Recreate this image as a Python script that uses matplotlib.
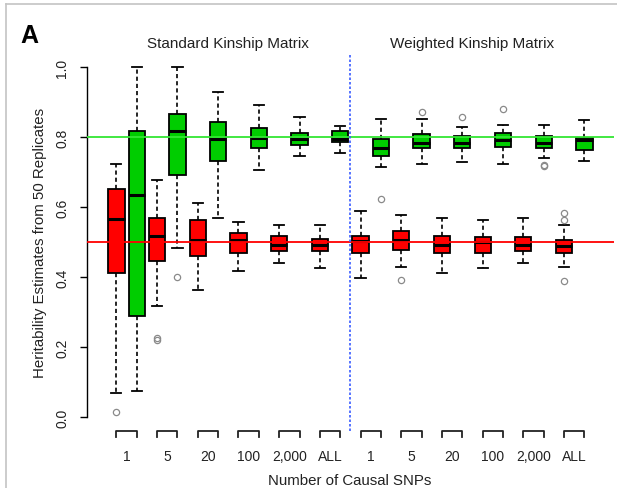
import numpy as np
import matplotlib.pyplot as plt
from matplotlib.lines import Line2D

plt.rcParams['font.family'] = ['Liberation Sans', 'DejaVu Sans']
plt.rcParams['text.color'] = '#222222'
plt.rcParams['ytick.labelcolor'] = '#222222'

# Number of causal SNPs (x groups, repeated for both kinship matrices)
snp_labels = ["1", "5", "20", "100", "2,000", "ALL"]
panel_titles = ["Standard Kinship Matrix", "Weighted Kinship Matrix"]
true_h2 = [0.5, 0.8]

# Standard kinship matrix, true heritability 0.5 (red)
std_05_low = [0.069, 0.319, 0.364, 0.417, 0.441, 0.426]
std_05_q1 = [0.412, 0.447, 0.462, 0.469, 0.474, 0.474]
std_05_med = [0.567, 0.518, 0.506, 0.506, 0.493, 0.493]
std_05_q3 = [0.652, 0.569, 0.564, 0.526, 0.519, 0.509]
std_05_high = [0.724, 0.679, 0.612, 0.559, 0.550, 0.550]
std_05_out = [[0.014], [0.220, 0.227], [], [], [], []]

# Standard kinship matrix, true heritability 0.8 (green)
std_08_low = [0.074, 0.485, 0.569, 0.707, 0.746, 0.755]
std_08_q1 = [0.290, 0.693, 0.732, 0.769, 0.777, 0.786]
std_08_med = [0.635, 0.819, 0.795, 0.799, 0.795, 0.795]
std_08_q3 = [0.817, 0.867, 0.845, 0.827, 0.812, 0.817]
std_08_high = [1.000, 1.000, 0.929, 0.892, 0.858, 0.831]
std_08_out = [[], [0.40], [], [], [], []]

# Weighted kinship matrix, true heritability 0.5 (red)
wtd_05_low = [0.399, 0.430, 0.412, 0.426, 0.440, 0.430]
wtd_05_q1 = [0.469, 0.479, 0.469, 0.469, 0.474, 0.469]
wtd_05_med = [0.503, 0.508, 0.493, 0.500, 0.493, 0.490]
wtd_05_q3 = [0.519, 0.532, 0.519, 0.516, 0.516, 0.507]
wtd_05_high = [0.590, 0.578, 0.569, 0.564, 0.569, 0.550]
wtd_05_out = [[], [0.393], [], [], [], [0.389, 0.564, 0.585]]

# Weighted kinship matrix, true heritability 0.8 (green)
wtd_08_low = [0.715, 0.724, 0.729, 0.724, 0.742, 0.732]
wtd_08_q1 = [0.746, 0.769, 0.769, 0.772, 0.769, 0.764]
wtd_08_med = [0.769, 0.785, 0.785, 0.792, 0.783, 0.793]
wtd_08_q3 = [0.795, 0.809, 0.805, 0.812, 0.805, 0.798]
wtd_08_high = [0.852, 0.852, 0.830, 0.835, 0.835, 0.849]
wtd_08_out = [[0.623], [0.873], [0.857], [0.881], [0.717, 0.722], []]

RED = "#ff0000"
GREEN = "#00cd00"


def make_stats(low, q1, med, q3, high, out):
    return [dict(whislo=a, q1=b, med=c, q3=d, whishi=e, fliers=f)
            for a, b, c, d, e, f in zip(low, q1, med, q3, high, out)]


red_sets = [make_stats(std_05_low, std_05_q1, std_05_med, std_05_q3, std_05_high, std_05_out),
            make_stats(wtd_05_low, wtd_05_q1, wtd_05_med, wtd_05_q3, wtd_05_high, wtd_05_out)]
green_sets = [make_stats(std_08_low, std_08_q1, std_08_med, std_08_q3, std_08_high, std_08_out),
              make_stats(wtd_08_low, wtd_08_q1, wtd_08_med, wtd_08_q3, wtd_08_high, wtd_08_out)]

# interleave red/green: positions 1..24
stats, colors = [], []
for reds, greens in zip(red_sets, green_sets):
    for r, g in zip(reds, greens):
        stats += [r, g]
        colors += [RED, GREEN]
positions = np.arange(1, len(stats) + 1)

W, H = 617, 489
fig = plt.figure(figsize=(W / 100, H / 100), dpi=100)
ax = fig.add_axes([86.7 / W, 1 - 432.3 / H, (614.1 - 86.7) / W, (432.3 - 54.3) / H])

bp = ax.bxp(stats, positions=positions, widths=0.8, capwidths=0.5,
            patch_artist=True,
            boxprops=dict(edgecolor="black", linewidth=1.3),
            whiskerprops=dict(color="black", linewidth=1.2, linestyle=(0, (2.5, 1.8))),
            capprops=dict(color="black", linewidth=1.3),
            medianprops=dict(color="black", linewidth=2.2, solid_capstyle="butt"),
            flierprops=dict(marker="o", markerfacecolor="none", markeredgecolor="#8a8a8a",
                            markersize=4.5, markeredgewidth=0.9))
for patch, c in zip(bp["boxes"], colors):
    patch.set_facecolor(c)

ax.axhline(true_h2[1], color="#33e633", linewidth=1.3, zorder=5)
ax.axhline(true_h2[0], color=RED, linewidth=1.3, zorder=5)
ax.axvline(12.5, color="#3a5cff", linewidth=1.2, linestyle=(0, (1.5, 1.2)), zorder=5)

ax.set_xlim(-0.46, 25.46)
ax.set_ylim(-0.04, 1.04)

for s in ["top", "right", "bottom"]:
    ax.spines[s].set_visible(False)
ax.spines["left"].set_bounds(0, 1)
ax.spines["left"].set_linewidth(1.0)
ax.set_yticks(np.arange(0, 1.01, 0.2))
ax.set_yticklabels([f"{v:.1f}" for v in np.arange(0, 1.01, 0.2)], rotation=90, va="center")
ax.tick_params(axis="y", length=4.7, width=1.0, pad=8, labelsize=10)
ax.set_xticks([])

# bracket-style x axis, one per SNP group
xt = ax.get_xaxis_transform()
d = 6 / 378
group_centers = []
for i in range(len(stats) // 2):
    x0, x1 = positions[2 * i], positions[2 * i + 1]
    ax.plot([x0, x0, x1, x1], [-d, 0, 0, -d], color="#222222", linewidth=1.3,
            transform=xt, clip_on=False)
    group_centers.append((x0 + x1) / 2)
labels = snp_labels * 2
for xc, lab in zip(group_centers, labels):
    ax.text(xc, (432.3 - 457) / 378, lab, transform=xt, ha="center", va="center", fontsize=10)

# panel titles
for k, title in enumerate(panel_titles):
    ax.text(6.5 + 12 * k, (432.3 - 44) / 378, title, transform=xt,
            ha="center", va="center", fontsize=11)

fig.text(40 / W, 1 - 243 / H, "Heritability Estimates from 50 Replicates",
         rotation=90, ha="center", va="center", fontsize=10.8)
fig.text(350 / W, 1 - 481 / H, "Number of Causal SNPs", ha="center", va="center", fontsize=10.8)
fig.text(29 / W, 1 - 36 / H, "A", ha="center", va="center", fontsize=18, fontweight="bold",
         color="black")

# light frame on top and left edge of the panel
fig.add_artist(Line2D([6 / W, 1], [1 - 5 / H, 1 - 5 / H], color="#c4c4c4", linewidth=1.2))
fig.add_artist(Line2D([6 / W, 6 / W], [0, 1 - 5 / H], color="#c4c4c4", linewidth=1.2))

fig.savefig("out.png", dpi=100)
